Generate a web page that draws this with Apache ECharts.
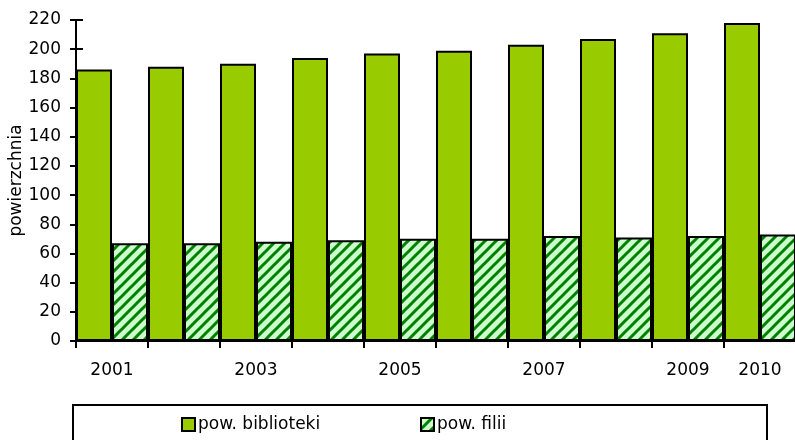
<!DOCTYPE html>
<html>
<head>
<meta charset="utf-8">
<script src="https://cdn.jsdelivr.net/npm/echarts@6/dist/echarts.min.js"></script>
<style>
html,body{margin:0;padding:0;background:#fff;}
#main{width:795px;height:440px;}
</style>
</head>
<body>
<div id="main"></div>
<script>
var categories = ['2001','2002','2003','2004','2005','2006','2007','2008','2009','2010'];
var biblioteki = [186, 188, 190, 194, 197, 199, 203, 207, 211, 218];
var filii = [67, 67, 68, 69, 70, 70, 72, 71, 72, 73];
var seriesNames = ['pow. biblioteki', 'pow. filii'];
var yTicks = {min: 0, max: 220, interval: 20};

function makePattern() {
  var s = 11;
  var c = document.createElement('canvas');
  c.width = s; c.height = s;
  var ctx = c.getContext('2d');
  ctx.fillStyle = '#ccffcc';
  ctx.fillRect(0, 0, s, s);
  ctx.strokeStyle = '#008000';
  ctx.lineWidth = 3;
  ctx.beginPath();
  ctx.moveTo(-2, s + 2); ctx.lineTo(s + 2, -2);
  ctx.moveTo(-3, 3); ctx.lineTo(3, -3);
  ctx.moveTo(s - 3, s + 3); ctx.lineTo(s + 3, s - 3);
  ctx.stroke();
  return c;
}
var pattern = makePattern();
var FONT = 'DejaVu Sans';

var chart = echarts.init(document.getElementById('main'), null, {renderer: 'canvas'});
chart.setOption({
  animation: false,
  backgroundColor: '#ffffff',
  textStyle: {fontFamily: FONT, color: '#000'},
  grid: {left: 76, right: -1, top: 20, bottom: 99, containLabel: false, outerBoundsMode: 'none'},
  legend: [
    {
      data: [seriesNames[0]], left: 181, top: 416, itemWidth: 13, itemHeight: 13, padding: 0,
      itemGap: 0, textStyle: {fontFamily: FONT, fontSize: 17, color: '#000', padding: [0, 0, 0, -2]},
      icon: 'rect'
    },
    {
      data: [seriesNames[1]], left: 420, top: 416, itemWidth: 13, itemHeight: 13, padding: 0,
      itemGap: 0, textStyle: {fontFamily: FONT, fontSize: 17, color: '#000', padding: [0, 0, 0, -2]},
      icon: 'rect'
    }
  ],
  graphic: [{
    type: 'rect', shape: {x: 73, y: 405, width: 694, height: 60},
    style: {fill: 'none', stroke: '#000', lineWidth: 2}, silent: true, z: 10
  }],
  xAxis: {
    type: 'category',
    data: categories,
    boundaryGap: true,
    axisLine: {lineStyle: {color: '#000', width: 2}},
    axisTick: {show: true, length: 7, interval: 0, alignWithLabel: false, lineStyle: {color: '#000', width: 2}},
    axisLabel: {
      interval: function (i) { return i % 2 === 0 || i === categories.length - 1; },
      color: '#000', fontFamily: FONT, fontSize: 17, margin: 21
    },
    splitLine: {show: false}
  },
  yAxis: [
    {
      type: 'value', min: yTicks.min, max: yTicks.max, interval: yTicks.interval,
      name: 'powierzchnia', nameLocation: 'middle', nameRotate: 90, nameGap: 51,
      nameMoveOverlap: false,
      nameTextStyle: {fontFamily: FONT, fontSize: 17, color: '#000'},
      axisLine: {show: true, lineStyle: {color: '#000', width: 2}},
      axisTick: {show: true, inside: false, length: 6, lineStyle: {color: '#000', width: 2}},
      axisLabel: {color: '#000', fontFamily: FONT, fontSize: 17, margin: 15},
      splitLine: {show: false}
    },
    {
      type: 'value', min: yTicks.min, max: yTicks.max, interval: yTicks.interval,
      position: 'left', offset: 0,
      axisLine: {show: false},
      axisTick: {show: true, inside: true, length: 7, lineStyle: {color: '#000', width: 2}},
      axisLabel: {show: false},
      splitLine: {show: false}
    }
  ],
  series: [
    {
      name: seriesNames[0], type: 'bar', data: biblioteki, yAxisIndex: 0,
      barGap: '0%', barCategoryGap: '0%',
      itemStyle: {color: '#99cc00', borderColor: '#000', borderWidth: 2}
    },
    {
      name: seriesNames[1], type: 'bar', data: filii, yAxisIndex: 0,
      barGap: '0%', barCategoryGap: '0%',
      itemStyle: {color: {image: pattern, repeat: 'repeat'}, borderColor: '#000', borderWidth: 2}
    }
  ]
});
</script>
</body>
</html>
